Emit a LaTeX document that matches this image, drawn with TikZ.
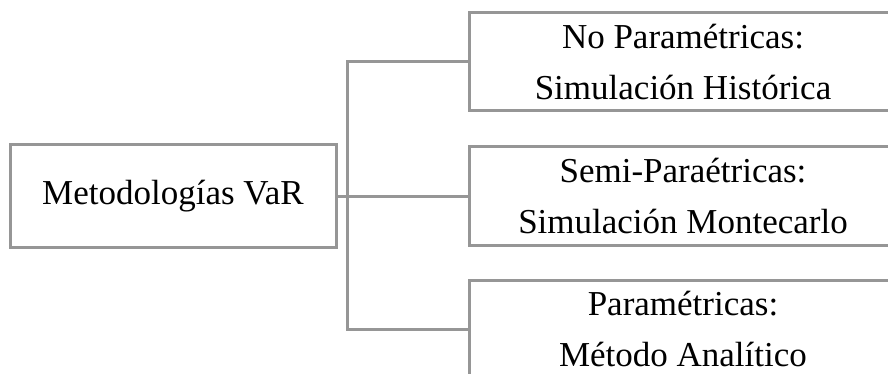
\documentclass[tikz,border=0pt]{standalone}
\usepackage{fontspec}
\setmainfont{Liberation Serif}
\definecolor{linegray}{RGB}{150,150,150}
\begin{document}
\begin{tikzpicture}[x=1pt,y=-1pt,
  box/.style={draw=linegray,line width=3pt,fill=white,inner sep=0pt,align=center,
    font=\fontsize{35}{51}\selectfont},
  conn/.style={draw=linegray,line width=3pt}]
\useasboundingbox (0,0) rectangle (888,374);
\clip (0,0) rectangle (888,374);
\node[box,minimum width=326pt,minimum height=103pt] (root) at (173,196) {Metodologías VaR};
\node[box,minimum width=428pt,minimum height=98pt] (b1) at (683,62) {No Paramétricas:\\Simulación Histórica};
\node[box,minimum width=428pt,minimum height=98pt] (b2) at (683,196) {Semi-Paraétricas:\\Simulación Montecarlo};
\node[box,minimum width=428pt,minimum height=98pt] (b3) at (683,329) {Paramétricas:\\Método Analítico};
\coordinate (jm) at (347,196);
\coordinate (jt) at (347,62);
\coordinate (jb) at (347,329);
\draw[conn] (root.east) -- (jm);
\draw[conn,line cap=rect] (jt) -- (jb);
\draw[conn] (jt) -- (b1.west);
\draw[conn] (jm) -- (b2.west);
\draw[conn] (jb) -- (b3.west);
\end{tikzpicture}
\end{document}
